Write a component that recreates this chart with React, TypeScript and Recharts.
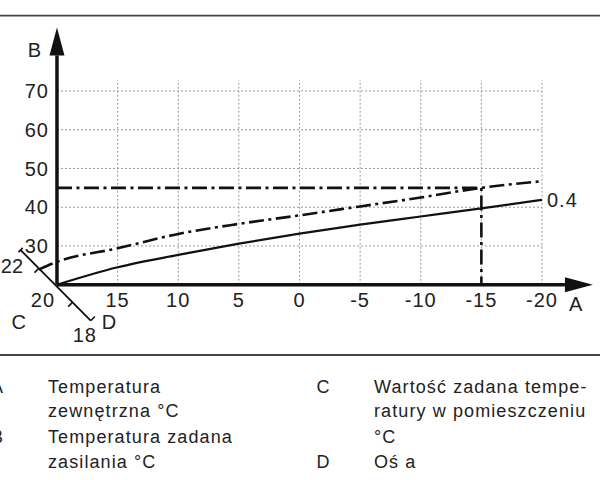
import React from "react";
import { LineChart, Line, XAxis, YAxis, ReferenceLine, ReferenceDot } from "recharts";

// outdoor temperature (A) and flow set-point (B) for heating curve 0.4
const outsideTemp = [20, 15, 10, 5, 0, -5, -10, -15, -20];
const flowCurve = [20, 24.5, 27.7, 30.6, 33.2, 35.5, 37.6, 39.7, 41.9];
// same curve shifted by a room set-point of 22
const shiftedTemp = [21.5, 20, 15, 10, 5, 0, -5, -10, -15, -20];
const flowShifted = [23.9, 25.9, 29.4, 33.1, 35.7, 37.9, 40.2, 42.5, 45, 46.7];
// reading at -15 °C
const readX = [20, -15, -15];
const readY = [45, 45, 20];

const xTicks = [15, 10, 5, 0, -5, -10, -15, -20];
const yTicks = [30, 40, 50, 60, 70];
const gridTop = 72.8;
const curveLabel = "0.4";
const roomLabels = { top: "22", mid: "20", end: "18" };

const legendLeft = [
  { key: "A", lines: ["Temperatura", "zewnętrzna °C"] },
  { key: "B", lines: ["Temperatura zadana", "zasilania °C"] },
];
const legendRight = [
  { key: "C", lines: ["Wartość zadana tempe-", "ratury w pomieszczeniu", "°C"] },
  { key: "D", lines: ["Oś a"] },
];

const curveData = outsideTemp.map((t, i) => ({ t, v: flowCurve[i] }));
const shiftedData = shiftedTemp.map((t, i) => ({ t, v: flowShifted[i] }));
const readData = readX.map((t, i) => ({ t, v: readY[i] }));

const INK = "#111";
const TEXT = "#222";
const DASH_DOT = "15 4.5 3 4.5";

function arrowShape(label: string, lx: number, ly: number, anchor: "start" | "end") {
  return (p: any) => {
    const { x1, y1, x2, y2 } = p;
    const dx = x2 - x1;
    const dy = y2 - y1;
    const len = Math.hypot(dx, dy) || 1;
    const ux = dx / len;
    const uy = dy / len;
    const bx = x2 - ux * 28;
    const by = y2 - uy * 28;
    const nx = -uy * 7.5;
    const ny = ux * 7.5;
    return (
      <g>
        <line x1={x1} y1={y1} x2={bx} y2={by} stroke={INK} strokeWidth={3.5} />
        <polygon points={`${x2},${y2} ${bx + nx},${by + ny} ${bx - nx},${by - ny}`} fill={INK} />
        <text x={x2 + lx} y={y2 + ly} fill={TEXT} fontSize={20} textAnchor={anchor}>
          {label}
        </text>
      </g>
    );
  };
}

function RoomAxis(p: any) {
  const { x1, y1, x2, y2 } = p;
  const dx = x2 - x1;
  const dy = y2 - y1;
  const len = Math.hypot(dx, dy) || 1;
  const nx = -dy / len;
  const ny = dx / len;
  const tick = (t: number, a: number, b: number) => {
    const px = x1 + dx * t;
    const py = y1 + dy * t;
    return (
      <line
        key={t}
        x1={px + nx * a}
        y1={py + ny * a}
        x2={px + nx * b}
        y2={py + ny * b}
        stroke={INK}
        strokeWidth={1.6}
      />
    );
  };
  return (
    <g>
      <line x1={x1} y1={y1} x2={x2} y2={y2} stroke={INK} strokeWidth={1.8} />
      {tick(0, -3, 3)}
      {tick(0.259, 0, 6)}
      {tick(0.74, 0, 6)}
      {tick(1, 0, -6)}
      <g fill={TEXT} fontSize={20}>
        <text x={x1 + 2.5} y={y1 + 23} textAnchor="end" style={{ letterSpacing: 0 }}>{roomLabels.top}</text>
        <text x={x1 + 34.5} y={y1 + 56.5} textAnchor="end">{roomLabels.mid}</text>
        <text x={x1 - 9} y={y1 + 79}>C</text>
        <text x={x2 + 11} y={y2 + 8.5}>D</text>
        <text x={x2 - 18} y={y2 + 21}>{roomLabels.end}</text>
      </g>
    </g>
  );
}

function Legend() {
  const rows = [393.3, 417, 443, 468];
  const fs = { fontSize: 18, letterSpacing: "1.1px", fill: TEXT } as const;
  const col = (items: typeof legendLeft, keyX: number, keyAnchor: "start" | "end", textX: number) => {
    let r = 0;
    return items.map((it) => {
      const start = r;
      r += it.lines.length;
      return (
        <g key={it.key} style={fs}>
          <text x={keyX} y={rows[start]} textAnchor={keyAnchor} style={{ letterSpacing: 0 }}>
            {it.key}
          </text>
          {it.lines.map((ln, j) => (
            <text key={j} x={textX} y={rows[start + j]}>
              {ln}
            </text>
          ))}
        </g>
      );
    });
  };
  return (
    <svg width={600} height={480} style={{ position: "absolute", left: 0, top: 0, pointerEvents: "none" }}>
      <line x1={0} y1={15.7} x2={600} y2={15.7} stroke="#444" strokeWidth={1.8} />
      <line x1={0} y1={355} x2={600} y2={355} stroke="#444" strokeWidth={1.8} />
      {col(legendLeft, 3, "end", 48)}
      {col(legendRight, 316.5, "start", 374)}
    </svg>
  );
}

export default function App() {
  const last = outsideTemp.length - 1;
  return (
    <div
      style={{
        position: "absolute",
        left: 0,
        top: 0,
        width: 600,
        height: 480,
        background: "#fff",
        fontFamily: "'Liberation Sans', Arial, sans-serif",
        letterSpacing: "1px",
        color: TEXT,
      }}
    >
      <LineChart width={600} height={480} margin={{ top: 71.6, right: 58, bottom: 165.3, left: 20.6 }}>
        <XAxis
          type="number"
          dataKey="t"
          domain={[-20, 23]}
          reversed
          ticks={xTicks}
          interval={0}
          axisLine={false}
          tickLine={false}
          tick={{ fill: TEXT, fontSize: 20 }}
        />
        <YAxis hide type="number" domain={[20, 75]} />

        {yTicks.map((v) => (
          <ReferenceLine
            key={`h${v}`}
            segment={[{ x: 20, y: v }, { x: -20, y: v }]}
            stroke="#999"
            strokeWidth={1}
            strokeDasharray="2 2"
            label={{ value: String(v), position: "left", offset: 8, fill: TEXT, fontSize: 20 }}
          />
        ))}
        {xTicks.map((v) => (
          <ReferenceLine
            key={`v${v}`}
            segment={[{ x: v, y: 20 }, { x: v, y: gridTop }]}
            stroke="#999"
            strokeWidth={1}
            strokeDasharray="2 2"
          />
        ))}

        <Line data={readData} dataKey="v" type="linear" stroke={INK} strokeWidth={2.6} strokeDasharray={DASH_DOT} dot={false} activeDot={false} isAnimationActive={false} />
        <Line data={shiftedData} dataKey="v" type="monotone" stroke={INK} strokeWidth={2.6} strokeDasharray={DASH_DOT} dot={false} activeDot={false} isAnimationActive={false} />
        <Line data={curveData} dataKey="v" type="monotone" stroke={INK} strokeWidth={2.2} dot={false} activeDot={false} isAnimationActive={false} />

        <ReferenceDot
          x={outsideTemp[last]}
          y={flowCurve[last]}
          r={1}
          fill="none"
          stroke="none"
          ifOverflow="visible"
          label={{ value: curveLabel, position: "right", offset: 4, fill: TEXT, fontSize: 20 }}
        />

        <ReferenceLine
          segment={[{ x: 23, y: 28.95 }, { x: 17.22, y: 10.7 }]}
          ifOverflow="visible"
          shape={RoomAxis}
        />
        <ReferenceLine
          segment={[{ x: 20, y: 20 }, { x: 20, y: 86.4 }]}
          ifOverflow="visible"
          shape={arrowShape("B", -15, 30, "end")}
        />
        <ReferenceLine
          segment={[{ x: 20, y: 20 }, { x: -24.2, y: 20 }]}
          ifOverflow="visible"
          shape={arrowShape("A", -24, 26, "start")}
        />
      </LineChart>
      <Legend />
    </div>
  );
}
